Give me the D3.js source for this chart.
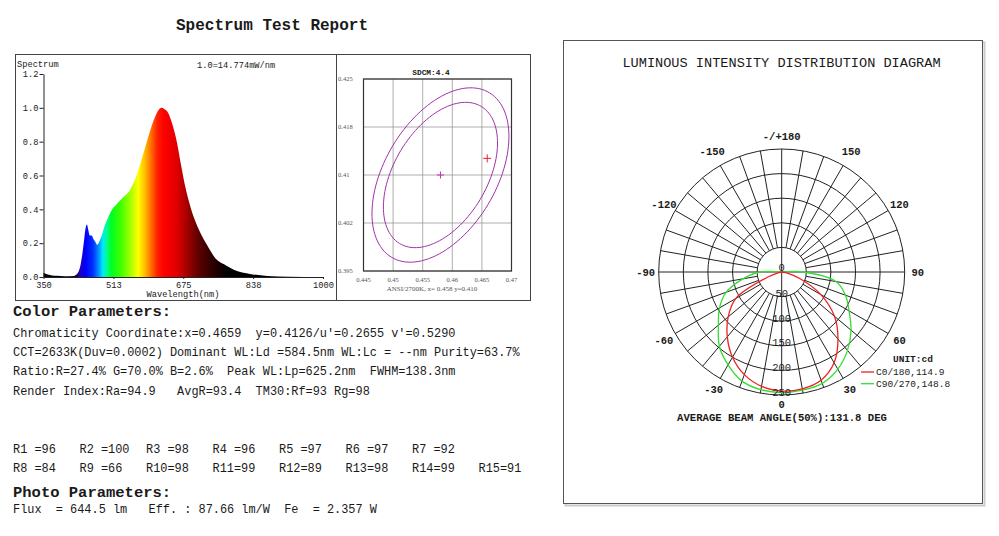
<!DOCTYPE html>
<html>
<head>
<meta charset="utf-8">
<script src="https://cdn.jsdelivr.net/npm/d3@7"></script>
<style>
  body { margin: 0; background: #fff; }
  text { font-family: "Liberation Mono", "Courier New", monospace; fill: #1a1a1a; }
  .serif { font-family: "Liberation Serif", "Times New Roman", serif; fill: #555; }
</style>
</head>
<body>
<div id="chart"></div>
<script>
// ---- Data ----

// relative spectrum (1.0 = 14.774 mW/nm)
var wavelengths = [350, 360, 380, 400, 420, 430, 436, 440, 444, 448, 451, 454, 458, 462, 466, 470,
                   475, 480, 486, 492, 500, 510, 520, 535, 550, 565, 580, 595, 610, 620, 625, 630,
                   640, 650, 660, 670, 680, 690, 700, 715, 730, 750, 770, 800, 830, 870, 920, 1000];
var spectrum = [0.025, 0.015, 0.007, 0.004, 0.006, 0.025, 0.07, 0.13, 0.21, 0.29, 0.31, 0.28, 0.245, 0.245, 0.225, 0.21,
                0.19, 0.21, 0.25, 0.30, 0.35, 0.40, 0.43, 0.47, 0.51, 0.59, 0.71, 0.84, 0.95, 0.995, 1.0, 0.995,
                0.97, 0.90, 0.80, 0.66, 0.53, 0.43, 0.35, 0.26, 0.19, 0.11, 0.075, 0.035, 0.018, 0.006, 0.002, 0.0];
var specYTicks = [0, 0.2, 0.4, 0.6, 0.8, 1.0, 1.2];
var specXTicks = [350, 512.5, 675, 837.5, 1000];
var specXLabels = ["350", "513", "675", "838", "1000"];

// SDCM chart
var sdcmXTicks = [0.445, 0.45, 0.455, 0.46, 0.465, 0.47];
var sdcmXLabels = ["0.445", "0.45", "0.455", "0.46", "0.465", "0.47"];
var sdcmYTicks = [0.395, 0.4025, 0.41, 0.4175, 0.425];
var sdcmYLabels = ["0.395", "0.402", "0.41", "0.418", "0.425"];
var ellipseCenter = [0.458, 0.410];
var ellipseAxes = [0.00255, 0.00154];   // one step
var ellipseAngle = 55.2;
var ellipseSteps = [5, 6];
var measuredPoint = [0.4659, 0.4126];

// luminous intensity (cd)
var polarAngles = [-100, -90, -80, -70, -60, -50, -40, -30, -20, -10, 0, 10, 20, 30, 40, 50, 60, 70, 80, 90, 100];
var c0Values  = [0, 0, 6, 30, 108, 142, 172, 200, 222, 236, 242, 241, 234, 213, 178, 140, 92, 40, 10, 0, 0];
var c90Values = [0, 45, 80, 120, 146, 168, 197, 218, 236, 243, 245, 244, 241, 228, 208, 184, 158, 138, 112, 45, 0];
var ringValues = [50, 100, 150, 200, 250];
var angleLabels = [0, 30, 60, 90, 120, 150, 180, -150, -120, -90, -60, -30];

// text blocks
var colorLines = [
  "Chromaticity Coordinate:x=0.4659  y=0.4126/u'=0.2655 v'=0.5290",
  "CCT=2633K(Duv=0.0002) Dominant WL:Ld =584.5nm WL:Lc = --nm Purity=63.7%",
  "Ratio:R=27.4% G=70.0% B=2.6%  Peak WL:Lp=625.2nm  FWHM=138.3nm",
  "Render Index:Ra=94.9   AvgR=93.4  TM30:Rf=93 Rg=98"
];
var rNames = ["R1", "R2", "R3", "R4", "R5", "R6", "R7", "R8", "R9", "R10", "R11", "R12", "R13", "R14", "R15"];
var rValues = [96, 100, 98, 96, 97, 97, 92, 84, 66, 98, 99, 89, 98, 99, 91];
var photoLine = "Flux  = 644.5 lm   Eff. : 87.66 lm/W  Fe  = 2.357 W";

// ---- Page ----

var svg = d3.select("#chart").append("svg")
    .attr("width", 999)
    .attr("height", 536);

svg.append("text")
    .attr("x", 272).attr("y", 30)
    .attr("text-anchor", "middle")
    .style("font-size", "16px").style("font-weight", "bold")
    .text("Spectrum Test Report");

// left frame + divider
svg.append("rect")
    .attr("x", 15.5).attr("y", 54.5).attr("width", 515).attr("height", 246)
    .attr("fill", "none").attr("stroke", "#444");
svg.append("line")
    .attr("x1", 336.5).attr("x2", 336.5).attr("y1", 54.5).attr("y2", 300.5)
    .attr("stroke", "#444");

// ---- Spectrum ----

var sx = d3.scaleLinear().domain([350, 1000]).range([43.5, 323]);
var sy = d3.scaleLinear().domain([0, 1.2]).range([277, 74]);

var wlColors = [[350, "#000000"], [420, "#000020"], [435, "#2000c0"], [448, "#0000ff"], [465, "#0030ff"],
  [478, "#0090ff"], [488, "#00e8ff"], [497, "#00ff90"], [508, "#00ff20"], [530, "#40ff00"],
  [555, "#b0ff00"], [570, "#ffff00"], [585, "#ffc000"], [600, "#ff7000"], [615, "#ff2000"],
  [630, "#ff0000"], [660, "#e00000"], [685, "#a00000"], [710, "#600000"], [740, "#300000"],
  [780, "#000000"], [1000, "#000000"]];

var grad = svg.append("defs").append("linearGradient")
    .attr("id", "specGrad")
    .attr("gradientUnits", "userSpaceOnUse")
    .attr("x1", sx(350)).attr("x2", sx(1000)).attr("y1", 0).attr("y2", 0);
grad.selectAll("stop")
    .data(wlColors)
  .enter().append("stop")
    .attr("offset", function(d) { return (d[0] - 350) / 650; })
    .attr("stop-color", function(d) { return d[1]; });

var specData = wavelengths.map(function(w, i) { return {w: w, v: spectrum[i]}; });

svg.append("path")
    .datum(specData)
    .attr("fill", "url(#specGrad)")
    .attr("d", d3.area()
        .x(function(d) { return sx(d.w); })
        .y0(sy(0))
        .y1(function(d) { return sy(d.v); })
        .curve(d3.curveMonotoneX));

var sxAxis = svg.append("g")
    .attr("transform", "translate(0," + sy(0) + ")")
    .call(d3.axisBottom(sx).tickValues(specXTicks)
        .tickFormat(function(d, i) { return specXLabels[i]; })
        .tickSize(2).tickSizeOuter(0));
var syAxis = svg.append("g")
    .attr("transform", "translate(" + sx(350) + ",0)")
    .call(d3.axisLeft(sy).tickValues(specYTicks)
        .tickFormat(d3.format(".1f"))
        .tickSize(4).tickPadding(1).tickSizeOuter(0));
[sxAxis, syAxis].forEach(function(a) {
  a.selectAll("text").style("font-family", "Liberation Mono").style("font-size", "8.7px").attr("fill", "#222");
  a.selectAll("path, line").attr("stroke", "#222");
});

svg.append("text").attr("x", 17).attr("y", 67)
    .style("font-size", "8.7px").text("Spectrum");
svg.append("text").attr("x", 197).attr("y", 68)
    .style("font-size", "8.7px").text("1.0=14.774mW/nm");
svg.append("text").attr("x", 183).attr("y", 297)
    .attr("text-anchor", "middle")
    .style("font-size", "8.7px").text("Wavelength(nm)");

// ---- SDCM ----

var cx = d3.scaleLinear().domain([0.445, 0.47]).range([363.5, 511.5]);
var cy = d3.scaleLinear().domain([0.395, 0.425]).range([271, 79]);

svg.selectAll(".vgrid")
    .data(sdcmXTicks)
  .enter().append("line")
    .attr("x1", function(d) { return cx(d); }).attr("x2", function(d) { return cx(d); })
    .attr("y1", cy(0.395)).attr("y2", cy(0.425))
    .attr("stroke", "#999").attr("stroke-width", 0.8);
svg.selectAll(".hgrid")
    .data(sdcmYTicks)
  .enter().append("line")
    .attr("y1", function(d) { return cy(d); }).attr("y2", function(d) { return cy(d); })
    .attr("x1", cx(0.445)).attr("x2", cx(0.47))
    .attr("stroke", "#999").attr("stroke-width", 0.8);
svg.append("rect")
    .attr("x", cx(0.445)).attr("y", cy(0.425))
    .attr("width", cx(0.47) - cx(0.445)).attr("height", cy(0.395) - cy(0.425))
    .attr("fill", "none").attr("stroke", "#333").attr("stroke-width", 1.2);

svg.selectAll(".sxl")
    .data(sdcmXTicks)
  .enter().append("text")
    .attr("class", "serif")
    .attr("x", function(d) { return cx(d); }).attr("y", 282)
    .attr("text-anchor", "middle")
    .style("font-size", "6.5px")
    .text(function(d, i) { return sdcmXLabels[i]; });
svg.selectAll(".syl")
    .data(sdcmYTicks)
  .enter().append("text")
    .attr("class", "serif")
    .attr("x", 338).attr("y", function(d) { return cy(d) + 2; })
    .style("font-size", "6.5px")
    .text(function(d, i) { return sdcmYLabels[i]; });

// MacAdam ellipses
var th = ellipseAngle * Math.PI / 180;
ellipseSteps.forEach(function(k) {
  var pts = d3.range(0, 361, 3).map(function(a) {
    var t = a * Math.PI / 180;
    return [ellipseCenter[0] + k * (ellipseAxes[0] * Math.cos(t) * Math.cos(th) - ellipseAxes[1] * Math.sin(t) * Math.sin(th)),
            ellipseCenter[1] + k * (ellipseAxes[0] * Math.cos(t) * Math.sin(th) + ellipseAxes[1] * Math.sin(t) * Math.cos(th))];
  });
  svg.append("path")
      .datum(pts)
      .attr("fill", "none").attr("stroke", "#a032a8").attr("stroke-width", 1)
      .attr("d", d3.line()
          .x(function(d) { return cx(d[0]); })
          .y(function(d) { return cy(d[1]); }));
});

function cross(p, size, color) {
  svg.append("path")
      .attr("d", "M" + (cx(p[0]) - size) + "," + cy(p[1]) + "H" + (cx(p[0]) + size) +
                 "M" + cx(p[0]) + "," + (cy(p[1]) - size) + "V" + (cy(p[1]) + size))
      .attr("stroke", color).attr("stroke-width", 1);
}
cross(ellipseCenter, 3.5, "#c030b0");
cross(measuredPoint, 4, "#f02030");

svg.append("text").attr("x", 431).attr("y", 75)
    .attr("text-anchor", "middle")
    .style("font-size", "7.8px").style("font-weight", "bold")
    .text("SDCM:4.4");
svg.append("text").attr("class", "serif").attr("x", 432).attr("y", 291)
    .attr("text-anchor", "middle")
    .style("font-size", "7px")
    .text("ANSI/2700K, x= 0.458 y=0.410");

// ---- Text blocks ----

svg.append("text").attr("x", 13).attr("y", 316)
    .style("font-size", "15.5px").style("font-weight", "bold")
    .text("Color Parameters:");
svg.selectAll(".cline")
    .data(colorLines)
  .enter().append("text")
    .attr("x", 13).attr("y", function(d, i) { return 337 + i * 19.2; })
    .style("font-size", "11.9px").style("white-space", "pre")
    .attr("fill", "#222")
    .text(function(d) { return d; });

svg.selectAll(".rval")
    .data(rNames)
  .enter().append("text")
    .attr("x", function(d, i) { return 13 + (i < 7 ? i : i - 7) * 66.5; })
    .attr("y", function(d, i) { return i < 7 ? 453 : 472; })
    .style("font-size", "11.9px").style("white-space", "pre")
    .text(function(d, i) { return (d + "   ").slice(0, 3) + "=" + rValues[i]; });

svg.append("text").attr("x", 13).attr("y", 497)
    .style("font-size", "15.5px").style("font-weight", "bold")
    .text("Photo Parameters:");
svg.append("text").attr("x", 13).attr("y", 513)
    .style("font-size", "11.9px").style("white-space", "pre")
    .text(photoLine);

// ---- Luminous intensity distribution ----

svg.append("rect")
    .attr("x", 565.5).attr("y", 42.5).attr("width", 419).attr("height", 463)
    .attr("fill", "none").attr("stroke", "#ccc").attr("stroke-width", 2);
svg.append("rect")
    .attr("x", 563.5).attr("y", 40.5).attr("width", 419).attr("height", 463)
    .attr("fill", "#fff").attr("stroke", "#555");

svg.append("text").attr("x", 781.5).attr("y", 67)
    .attr("text-anchor", "middle")
    .style("font-size", "13.6px")
    .text("LUMINOUS INTENSITY DISTRIBUTION DIAGRAM");

var pc = {x: 781.7, y: 272};
var pr = d3.scaleLinear().domain([0, 250]).range([0, 123]);
var polar = svg.append("g").attr("transform", "translate(" + pc.x + "," + pc.y + ")");

function pt(a, r) {
  var t = a * Math.PI / 180;
  return [r * Math.sin(t), r * Math.cos(t)];
}

polar.selectAll(".ring")
    .data(ringValues)
  .enter().append("circle")
    .attr("r", function(d) { return pr(d); })
    .attr("fill", "none").attr("stroke", "#222").attr("stroke-width", 1);

polar.selectAll(".spoke")
    .data(d3.range(-180, 180, 10))
  .enter().append("line")
    .attr("x1", function(d) { return pt(d, d % 90 === 0 ? 0 : pr(50))[0]; })
    .attr("y1", function(d) { return pt(d, d % 90 === 0 ? 0 : pr(50))[1]; })
    .attr("x2", function(d) { return pt(d, pr(250))[0]; })
    .attr("y2", function(d) { return pt(d, pr(250))[1]; })
    .attr("stroke", "#222").attr("stroke-width", 1);

var radial = d3.lineRadial()
    .angle(function(d) { return Math.PI - d.a * Math.PI / 180; })
    .radius(function(d) { return pr(d.v); })
    .curve(d3.curveCatmullRom.alpha(0.5));

polar.append("path")
    .datum(polarAngles.map(function(a, i) { return {a: a, v: c90Values[i]}; }))
    .attr("fill", "none").attr("stroke", "#33dd33").attr("stroke-width", 1.3)
    .attr("d", radial);
polar.append("path")
    .datum(polarAngles.map(function(a, i) { return {a: a, v: c0Values[i]}; }))
    .attr("fill", "none").attr("stroke", "#ee2222").attr("stroke-width", 1.3)
    .attr("d", radial);

polar.append("text").attr("x", 0).attr("y", -1)
    .attr("text-anchor", "middle")
    .style("font-size", "10.5px").text("0");
polar.selectAll(".rlab")
    .data(ringValues)
  .enter().append("text")
    .attr("x", 0).attr("y", function(d) { return pr(d) + 0.5; })
    .attr("text-anchor", "middle")
    .style("font-size", "10.5px")
    .text(function(d) { return d; });

polar.selectAll(".alab")
    .data(angleLabels)
  .enter().append("text")
    .attr("x", function(d) { return pt(d, Math.abs(d) === 150 ? 139 : 136)[0]; })
    .attr("y", function(d) { return pt(d, Math.abs(d) === 150 ? 139 : 136)[1] + (d === 0 ? -0.5 : 3.5); })
    .attr("text-anchor", "middle")
    .style("font-size", "10.5px").style("font-weight", "bold")
    .text(function(d) { return d === 180 ? "-/+180" : d; });

svg.append("text").attr("x", 782).attr("y", 420.5)
    .attr("text-anchor", "middle")
    .style("font-size", "10.6px").style("font-weight", "bold")
    .text("AVERAGE BEAM ANGLE(50%):131.8 DEG");

// legend
svg.append("text").attr("x", 893).attr("y", 362)
    .style("font-size", "9.5px").style("font-weight", "bold")
    .text("UNIT:cd");
var legend = [["C0/180,114.9", "#ee2222"], ["C90/270,148.8", "#33dd33"]];
legend.forEach(function(l, i) {
  svg.append("line")
      .attr("x1", 861).attr("x2", 874)
      .attr("y1", 372 + i * 11.7).attr("y2", 372 + i * 11.7)
      .attr("stroke", l[1]).attr("stroke-width", 1.3);
  svg.append("text").attr("x", 876).attr("y", 375 + i * 11.7)
      .style("font-size", "9.5px")
      .text(l[0]);
});
</script>
</body>
</html>
